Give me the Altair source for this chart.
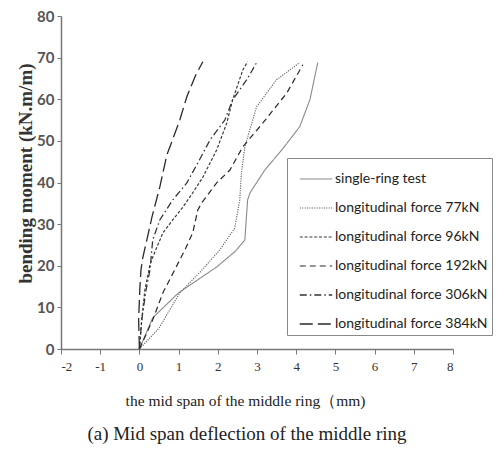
import altair as alt
import pandas as pd

series_names = [
    "single-ring test",
    "longitudinal force 77kN",
    "longitudinal force 96kN",
    "longitudinal force 192kN",
    "longitudinal force 306kN",
    "longitudinal force 384kN",
]

single_x = [0, 0.34, 1.0, 1.97, 2.45, 2.69, 2.76, 2.82, 3.2, 3.63, 4.09, 4.35, 4.55]
single_y = [0, 7.5, 13.5, 19.7, 23.5, 26.2, 35.8, 37.5, 43.0, 47.8, 53.4, 59.9, 68.8]

f77_x = [0, 0.5, 1.03, 1.55, 2.05, 2.43, 2.56, 2.60, 2.69, 2.99, 3.50, 4.09]
f77_y = [0, 5.0, 13.5, 18.5, 23.8, 29.0, 35.8, 42.0, 48.6, 58.2, 64.7, 68.8]

f96_x = [0, 0.06, 0.14, 0.27, 0.34, 0.60, 0.85, 1.11, 1.36, 1.62, 1.97, 2.23, 2.38, 2.64, 2.76]
f96_y = [0, 7.0, 14.2, 20.2, 22.1, 27.9, 31.0, 34.1, 37.5, 41.3, 47.8, 54.3, 59.9, 67.1, 69.0]

f192_x = [0, 0.34, 0.60, 0.90, 1.16, 1.36, 1.49, 1.59, 1.97, 2.31, 2.64, 3.15, 3.76, 4.17]
f192_y = [0, 7.0, 13.5, 19.0, 23.8, 27.9, 33.4, 35.1, 39.9, 43.0, 48.6, 54.3, 61.5, 68.3]

f306_x = [0, 0.06, 0.17, 0.27, 0.34, 0.52, 0.85, 1.21, 1.49, 1.80, 2.18, 2.38, 2.74, 2.99]
f306_y = [0, 7.0, 14.2, 19.0, 26.2, 31.0, 35.8, 39.9, 44.7, 50.2, 55.0, 59.9, 64.7, 68.8]

f384_x = [0, -0.02, 0.01, 0.04, 0.09, 0.19, 0.32, 0.52, 0.70, 0.78, 1.03, 1.21, 1.44, 1.62]
f384_y = [0, 7.0, 14.2, 19.0, 22.1, 26.2, 31.7, 38.9, 46.6, 48.6, 55.0, 60.6, 65.9, 69.0]

x_ticks = [-2, -1, 0, 1, 2, 3, 4, 5, 6, 7, 8]
y_ticks = [0, 10, 20, 30, 40, 50, 60, 70, 80]

line_colors = ["#8a8a8a", "#666666", "#3a3a3a", "#2a2a2a", "#333333", "#2a2a2a"]
line_dashes = [[1, 0], [1.2, 1.2], [3, 1.8], [6, 4], [7, 3, 1.5, 3], [13, 5]]
line_widths = [1.1, 1.3, 1.6, 2.0, 1.6, 2.2]

all_x = [single_x, f77_x, f96_x, f192_x, f306_x, f384_x]
all_y = [single_y, f77_y, f96_y, f192_y, f306_y, f384_y]

rows = []
for name, xs, ys in zip(series_names, all_x, all_y):
    for i, (xv, yv) in enumerate(zip(xs, ys)):
        rows.append({"series": name, "x": xv, "y": yv, "order": i})
df = pd.DataFrame(rows)

serif = "Liberation Serif, Times New Roman, serif"
sans = "Lato, sans-serif"

chart = (
    alt.Chart(df)
    .mark_line(interpolate="linear")
    .encode(
        x=alt.X(
            "x:Q",
            scale=alt.Scale(domain=[-2, 8], nice=False),
            axis=alt.Axis(
                values=x_ticks,
                labelExpr="'' + datum.value",
                title="the mid span of the middle ring（mm)",
                titleFont=serif,
                titleFontSize=15.5,
                titleFontWeight="normal",
                titleColor="#222",
                titleX=184,
                titleY=51,
                titleBaseline="middle",
                labelFont=serif,
                labelFontSize=13,
                labelColor="#333",
                labelPadding=6,
                grid=False,
                tickSize=5,
                tickColor="#777",
                domainColor="#777",
                domainWidth=1.5,
            ),
        ),
        y=alt.Y(
            "y:Q",
            scale=alt.Scale(domain=[0, 80], nice=False),
            axis=alt.Axis(
                values=y_ticks,
                title="bending moment  (kN.m/m)",
                titleFont=serif,
                titleFontSize=19,
                titleFontWeight="bold",
                titleColor="#333",
                titleX=-36,
                titleY=157,
                titleAlign="center",
                titleBaseline="middle",
                titleAngle=270,
                labelFont=sans,
                labelFontSize=15,
                labelFontWeight="bold",
                labelColor="#555",
                labelPadding=3,
                grid=False,
                tickSize=4,
                tickColor="#777",
                domainColor="#777",
                domainWidth=1.5,
            ),
        ),
        color=alt.Color(
            "series:N",
            scale=alt.Scale(domain=series_names, range=line_colors),
            legend=alt.Legend(title=None),
        ),
        strokeDash=alt.StrokeDash(
            "series:N",
            scale=alt.Scale(domain=series_names, range=line_dashes),
            legend=alt.Legend(title=None),
        ),
        strokeWidth=alt.StrokeWidth(
            "series:N",
            scale=alt.Scale(domain=series_names, range=line_widths),
            legend=alt.Legend(title=None),
        ),
        order="order:Q",
    )
    .properties(
        width=392,
        height=333,
        title=alt.TitleParams(
            "(a) Mid span deflection of the middle ring",
            orient="bottom",
            font=serif,
            fontSize=19,
            fontWeight="normal",
            color="#222",
            dx=-10,
            offset=16,
        ),
        autosize=alt.AutoSizeParams(type="none"),
        padding={"left": 53, "top": 8, "right": 43, "bottom": 95},
    )
    .configure_view(stroke=None)
    .configure_legend(
        orient="none",
        legendX=226,
        legendY=142,
        symbolType="stroke",
        symbolSize=1050,
        symbolStrokeWidth=1.6,
        labelFont=sans,
        labelFontSize=14,
        labelColor="#222",
        labelLimit=300,
        labelOffset=2,
        rowPadding=5,
        padding=4,
        strokeColor="#888",
        fillColor="white",
        symbolOffset=8,
    )
)

chart.save("out.html", embed_options={"renderer": "svg", "actions": False})
